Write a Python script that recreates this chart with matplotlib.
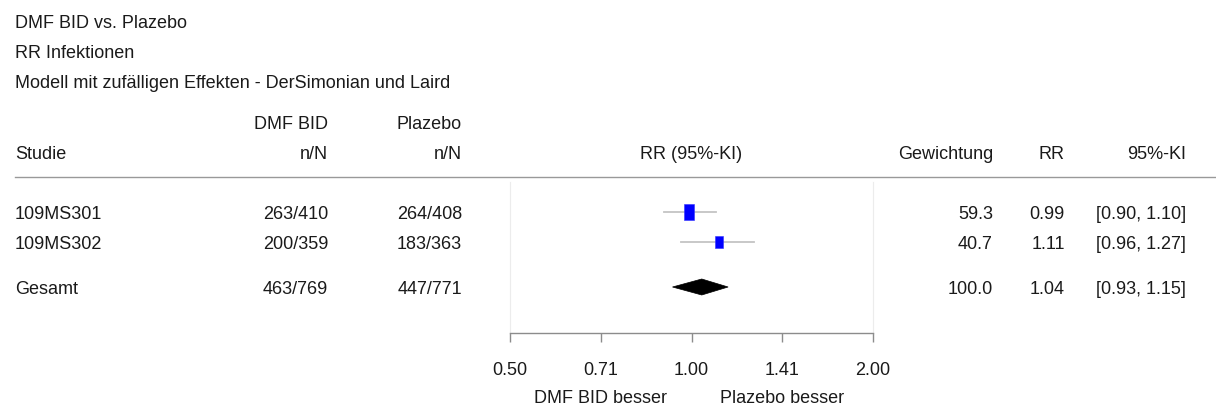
import matplotlib
matplotlib.use("Agg")
import matplotlib.pyplot as plt
from matplotlib.patches import Polygon
import numpy as np

plt.rcParams['font.family'] = ['Liberation Sans', 'DejaVu Sans']

# ---- data ----
titles = ["DMF BID vs. Plazebo", "RR Infektionen",
          "Modell mit zufälligen Effekten - DerSimonian und Laird"]
studies = ["109MS301", "109MS302"]
dmf_n = [263, 200]
dmf_N = [410, 359]
pla_n = [264, 183]
pla_N = [408, 363]
weights = [59.3, 40.7]
rr = [0.99, 1.11]
ci_lo = [0.90, 0.96]
ci_hi = [1.10, 1.27]
total_label = "Gesamt"
total_dmf = (463, 769)
total_pla = (447, 771)
total_weight = 100.0
total_rr = 1.04
total_lo = 0.93
total_hi = 1.15
tick_values = [0.5, 2 ** -0.5, 1.0, 2 ** 0.5, 2.0]
tick_labels = ["0.50", "0.71", "1.00", "1.41", "2.00"]
favours = ["DMF BID besser", "Plazebo besser"]

W, H = 1216, 406
FS = 12.96  # 18 px
fig = plt.figure(figsize=(W / 100, H / 100), dpi=100)

# background axes in pixel coordinates for the table text
bg = fig.add_axes([0, 0, 1, 1])
bg.set_xlim(0, W)
bg.set_ylim(H, 0)
bg.axis('off')

CAP = 6.45  # half cap height in px -> baseline offset
TXT = '#1a1a1a'


def t(x, yc, s, ha='left', **kw):
    bg.text(x, yc + CAP, s, ha=ha, va='baseline', fontsize=FS, color=TXT, **kw)


for i, s in enumerate(titles):
    t(15, 22 + 30 * i, s)

# header
t(328, 123, "DMF BID", ha='right')
t(462, 123, "Plazebo", ha='right')
t(15, 153, "Studie")
t(328, 153, "n/N", ha='right')
t(462, 153, "n/N", ha='right')
t(691.5, 153, "RR (95%-KI)", ha='center')
t(993, 153, "Gewichtung", ha='right')
t(1065, 153, "RR", ha='right')
t(1186, 153, "95%-KI", ha='right')
bg.plot([15, 1216], [178, 178], color='#999999', lw=1.0)

# forest axes
ROW0 = 213
UNIT = 30
top_px, bot_px = 183, 334
left_px, right_px = 510, 873
ax = fig.add_axes([left_px / W, (H - bot_px) / H, (right_px - left_px) / W, (bot_px - top_px) / H])
ax.set_xscale('log')
ax.set_xlim(0.5, 2.0)
ylo = (bot_px - ROW0) / UNIT
yhi = (top_px - ROW0) / UNIT
ax.set_ylim(ylo, yhi)
ax.patch.set_alpha(0)

rows = [0, 1]
total_row = 2.5


def row_px(r):
    return ROW0 + UNIT * r


k = 15.5 / np.sqrt(59.3)
rect = [(-0.34, -0.5), (0.34, -0.5), (0.34, 0.5), (-0.34, 0.5), (-0.34, -0.5)]
for i, r in enumerate(rows):
    ax.plot([ci_lo[i], ci_hi[i]], [r, r], color='#c4c4c4', lw=1.3, zorder=2)
    h_px = k * np.sqrt(weights[i])
    ax.plot([rr[i]], [r], marker=rect, markersize=h_px * 0.72, color='#0000ff',
            markeredgecolor='#3333ff', markeredgewidth=0.4, zorder=3)
    yc = row_px(r)
    t(15, yc, studies[i])
    t(328, yc, f"{dmf_n[i]}/{dmf_N[i]}", ha='right')
    t(462, yc, f"{pla_n[i]}/{pla_N[i]}", ha='right')
    t(993, yc, f"{weights[i]:.1f}", ha='right')
    t(1065, yc, f"{rr[i]:.2f}", ha='right')
    t(1186, yc, f"[{ci_lo[i]:.2f}, {ci_hi[i]:.2f}]", ha='right')

dh = 8 / UNIT
ax.add_patch(Polygon([(total_lo, total_row), (total_rr, total_row - dh),
                      (total_hi, total_row), (total_rr, total_row + dh)],
                     closed=True, facecolor='black', edgecolor='black', lw=0.5, zorder=3))
yc = row_px(total_row)
t(15, yc, total_label)
t(328, yc, f"{total_dmf[0]}/{total_dmf[1]}", ha='right')
t(462, yc, f"{total_pla[0]}/{total_pla[1]}", ha='right')
t(993, yc, f"{total_weight:.1f}", ha='right')
t(1065, yc, f"{total_rr:.2f}", ha='right')
t(1186, yc, f"[{total_lo:.2f}, {total_hi:.2f}]", ha='right')

ax.spines['top'].set_visible(False)
for side in ['left', 'right']:
    ax.spines[side].set_color('#ececec')
    ax.spines[side].set_linewidth(0.8)
ax.spines['bottom'].set_color('#8c8c8c')
ax.spines['bottom'].set_linewidth(1.0)
ax.set_yticks([])
ax.xaxis.set_minor_locator(matplotlib.ticker.NullLocator())
ax.set_xticks(tick_values)
ax.set_xticklabels(tick_labels)
ax.tick_params(axis='x', direction='out', length=6.5, width=1.0, color='#8c8c8c',
               labelsize=FS, labelcolor=TXT, pad=14)

# favours labels (pixel row ~397)
fav_y = -(396.5 + CAP - bot_px) / (bot_px - top_px)
for xv, lab in zip([tick_values[1], tick_values[3]], favours):
    ax.text(xv, fav_y, lab, transform=ax.get_xaxis_transform(),
            ha='center', va='baseline', fontsize=FS, color=TXT)

fig.savefig("out.png", dpi=100)
